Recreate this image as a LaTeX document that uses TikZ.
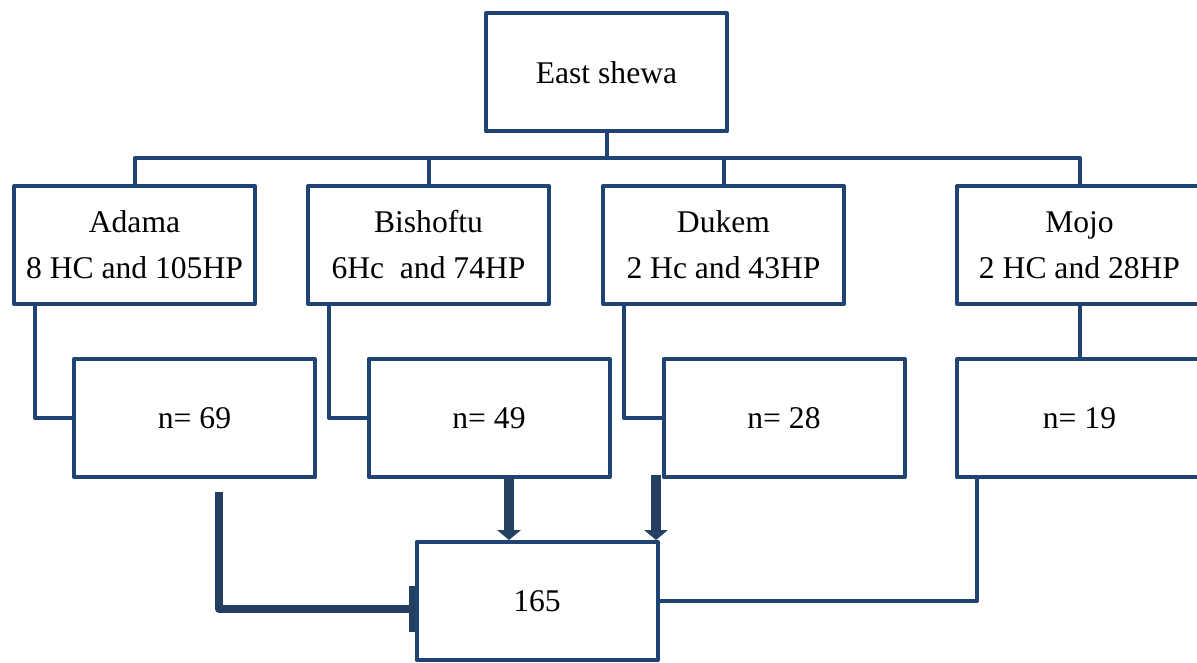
\documentclass[tikz,border=0pt]{standalone}
\usepackage{fontspec}
\setmainfont{Liberation Serif}
\usepackage{tikz}
\usetikzlibrary{arrows.meta}
\definecolor{boxblue}{RGB}{31,68,116}
\definecolor{darkblue}{RGB}{36,63,96}
\pgfdeclarelayer{edgelayer}
\pgfdeclarelayer{nodelayer}
\pgfsetlayers{edgelayer,nodelayer,main}
\tikzstyle{site}=[rectangle,draw=boxblue,line width=3pt,line join=round,minimum width=180.75pt,minimum height=88.5pt,align=center,inner sep=0pt,font=\fontsize{23.7}{34.5}\selectfont]
\tikzstyle{wide}=[minimum width=183.75pt]
\tikzstyle{link}=[-,draw=boxblue,line width=3pt,line join=round]
\tikzstyle{feed}=[-{Triangle[width=17.5pt,length=7.5pt]},draw=darkblue,line width=7pt]
\tikzstyle{feedbar}=[-{Bar[width=34pt,line width=4pt]},draw=darkblue,line width=6pt,line join=round]

\begin{document}
\begin{tikzpicture}[x=0.75pt,y=-0.75pt]
	\clip (0,0) rectangle (1197,663);
	\begin{pgfonlayer}{nodelayer}
		\node [style=site] (east) at (606.5, 72.5) {East shewa};
		\node [style=site] (adama) at (134.5, 245) {Adama\\8 HC and 105HP};
		\node [style=site] (bishoftu) at (428.5, 245) {Bishoftu\\6Hc~~and 74HP};
		\node [style=site] (dukem) at (723.5, 245) {Dukem\\2 Hc and 43HP};
		\node [style=site, style=wide] (mojo) at (1079.5, 245) {Mojo\\2 HC and 28HP};
		\node [style=site] (n69) at (194.5, 418) {n= 69};
		\node [style=site] (n49) at (489, 418) {n= 49};
		\node [style=site] (n28) at (784, 418) {n= 28};
		\node [style=site, style=wide] (n19) at (1079.5, 418) {n= 19};
		\node [style=site] (total) at (537, 601) {165};
		\coordinate (bus) at (606.5, 158);
		\coordinate (in69) at (219, 492);
		\coordinate (in49) at (509, 475);
		\coordinate (in28) at (656, 475);
	\end{pgfonlayer}
	\begin{pgfonlayer}{edgelayer}
		\draw [style=link] (east.south) -- (bus);
		\draw [style=link] (adama.north) -- (adama.north |- bus) -| (mojo.north);
		\draw [style=link] (bishoftu.north) -- (bishoftu.north |- bus);
		\draw [style=link] (dukem.north) -- (dukem.north |- bus);
		\draw [style=link] ([xshift=17.25pt]adama.south west) |- (n69.west);
		\draw [style=link] ([xshift=17.25pt]bishoftu.south west) |- (n49.west);
		\draw [style=link] ([xshift=17.25pt]dukem.south west) |- (n28.west);
		\draw [style=link] (mojo.south) -- (n19.north);
		\draw [style=link] ([xshift=16.5pt]n19.south west) |- (total.east);
		\draw [style=feedbar] (in69) |- ([yshift=-6pt]total.west);
		\draw [style=feed] (in49) -- (in49 |- total.north);
		\draw [style=feed] (in28) -- (in28 |- total.north);
	\end{pgfonlayer}
\end{tikzpicture}
\end{document}
